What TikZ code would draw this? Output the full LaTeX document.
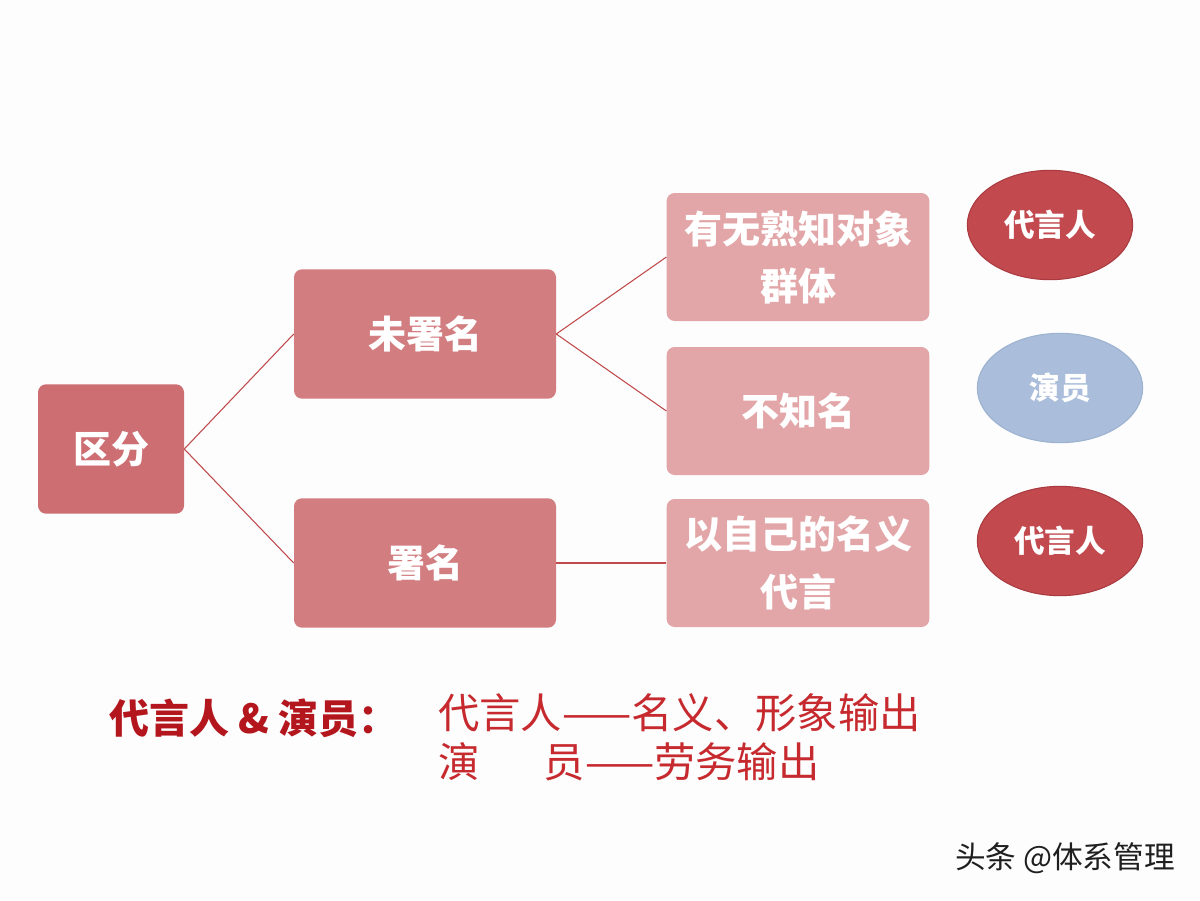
\documentclass[tikz,border=0pt]{standalone}
\usepackage{fontspec}
\newfontfamily\cjk{Noto Sans CJK SC}
\usetikzlibrary{shapes.geometric}
\definecolor{bgc}{HTML}{FDFDFD}
\definecolor{rootc}{HTML}{CD6E73}
\definecolor{midc}{HTML}{D27D80}
\definecolor{leafc}{HTML}{E3A6A8}
\definecolor{redell}{HTML}{C24A4F}
\definecolor{redelld}{HTML}{A93B40}
\definecolor{blueell}{HTML}{AABEDB}
\definecolor{blueelld}{HTML}{9DB2D0}
\definecolor{linec}{HTML}{C0494C}
\definecolor{darkred}{HTML}{B3161C}
\definecolor{txtred}{HTML}{C62A2F}
\tikzset{
  box/.style={rectangle, rounded corners=6pt, inner sep=0pt, align=center,
    text=white, font=\cjk\bfseries\fontsize{28.5}{43}\selectfont},
  rootbox/.style={box, fill=rootc, minimum width=109.5pt, minimum height=97pt},
  midbox/.style={box, fill=midc, minimum width=196.5pt, minimum height=97pt},
  leafbox/.style={box, fill=leafc, minimum width=197pt, minimum height=96pt},
  ell/.style={ellipse, inner sep=0pt, minimum width=124pt, minimum height=82pt,
    line width=0.8pt, text=white, font=\cjk\bfseries\fontsize{23}{27}\selectfont},
  redell/.style={ell, fill=redell, draw=redelld},
  blueell/.style={ell, fill=blueell, draw=blueelld},
  conn/.style={draw=linec, line width=0.8pt},
}
\begin{document}
\begin{tikzpicture}[x=0.75pt,y=-0.75pt]
\fill[bgc] (0,0) rectangle (1200,900);
\useasboundingbox (0,0) rectangle (1200,900);

\node[rootbox] (root) at (111,449) {区分};
\node[midbox] (unsigned) at (425,334) {未署名};
\node[midbox] (signed) at (425,563) {署名};
\node[leafbox] (known) at (798,257) {有无熟知对象\\群体};
\node[leafbox] (unknown) at (798,411) {不知名};
\node[leafbox] (own) at (798,563) {以自己的名义\\代言};

\node[redell] (e1) at (1050,225) {代言人};
\node[blueell] (e2) at (1060,388) {演员};
\node[redell] (e3) at (1060,541) {代言人};

\draw[conn] (root.east) -- (unsigned.west);
\draw[conn] (root.east) -- (signed.west);
\draw[conn] (unsigned.east) -- (known.west);
\draw[conn] (unsigned.east) -- (unknown.west);
\draw[conn] (signed.east) -- (own.west);

\node[anchor=west, text=darkred, font=\cjk\bfseries\fontsize{30}{34}\selectfont, inner sep=0pt] (lbl) at (109,718) {代言人 \& 演员：};
\node[anchor=west, text=txtred, font=\cjk\fontsize{31}{36}\selectfont, inner sep=0pt] (l1) at (438,713) {代言人——名义、形象输出};
\node[anchor=west, text=txtred, font=\cjk\fontsize{31}{36}\selectfont, inner sep=0pt] (l2) at (438,762) {演\hspace{1.55em}员——劳务输出};

\node[text=black!88, font=\cjk\fontsize{23}{27}\selectfont, inner sep=0pt] (wm) at (1065,858) {头条 @体系管理};
\end{tikzpicture}
\end{document}
